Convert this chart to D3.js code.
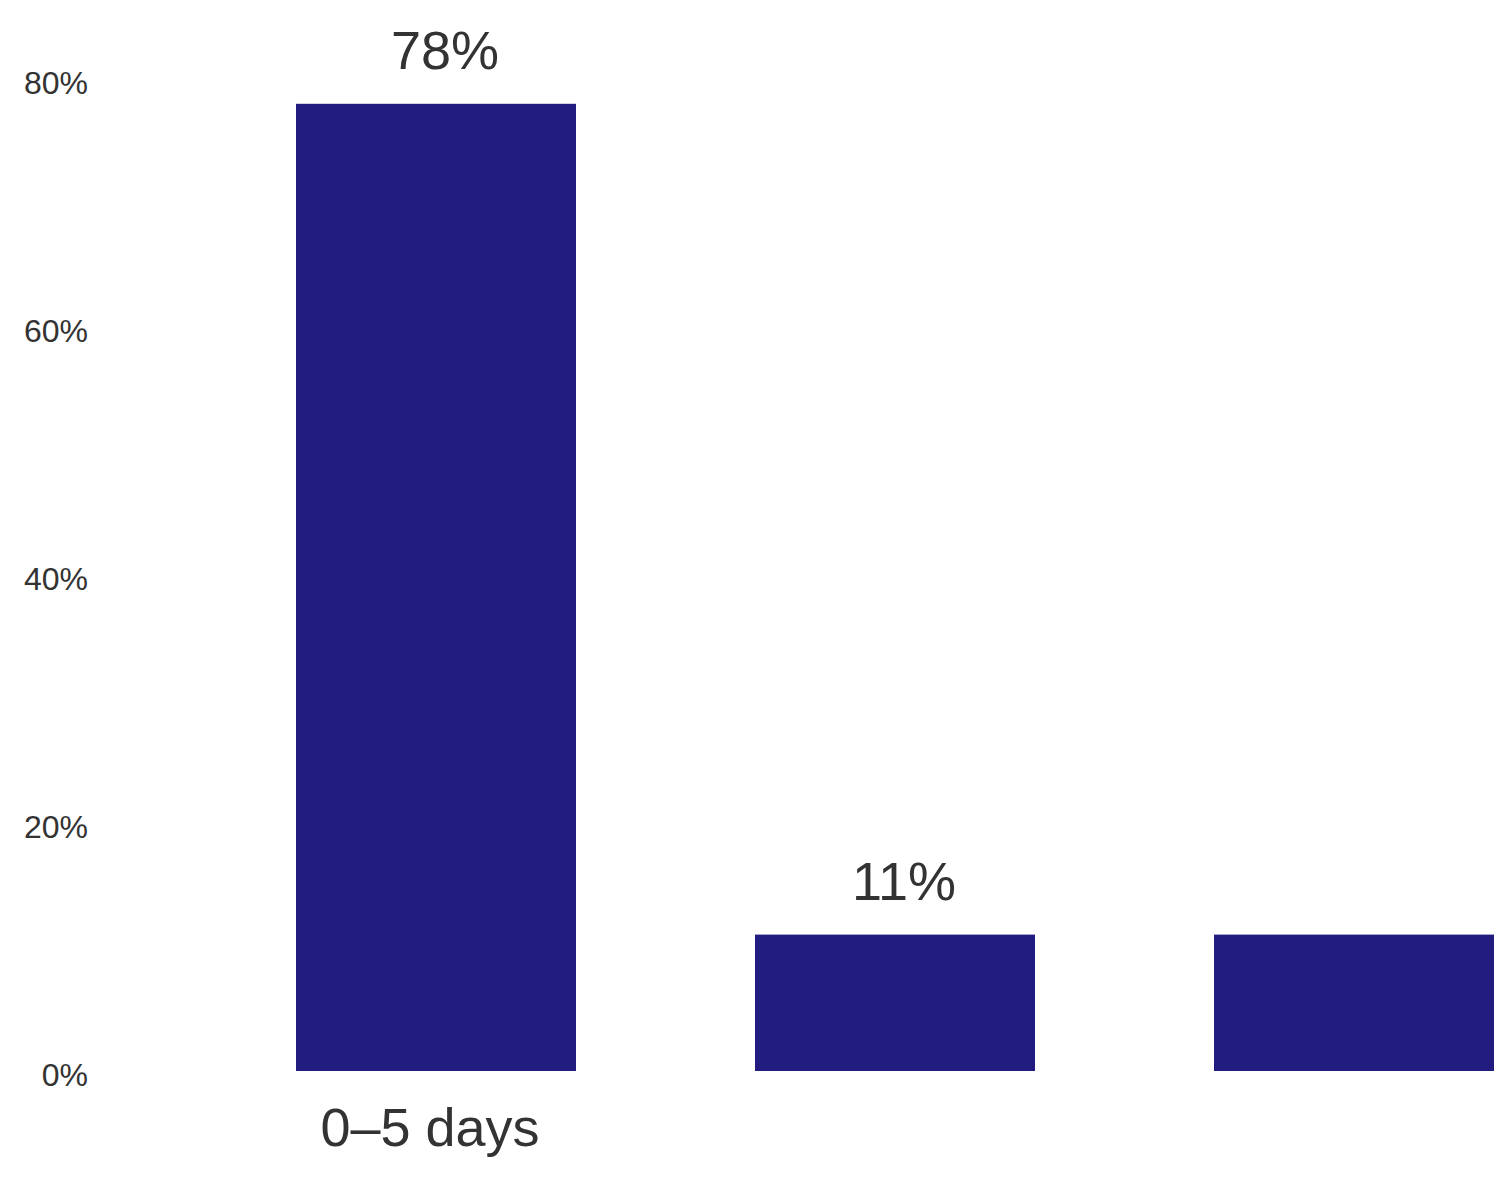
<!DOCTYPE html>
<html>
<head>
<meta charset="utf-8">
<script src="https://cdn.jsdelivr.net/npm/d3@7/dist/d3.min.js"></script>
<style>
  html, body { margin: 0; padding: 0; background: #ffffff; }
  svg { display: block; }
  text { font-family: "Liberation Sans", Arial, sans-serif; fill: #333333; }
</style>
</head>
<body>
<svg id="chart" width="1495" height="1195"></svg>
<script>
// ---- data ----
const categories = ["0–5 days", "cat2", "cat3"];
const values = [78, 11, 11];
const categoryLabels = ["0–5 days", "", ""];
const valueLabels = ["78%", "11%", ""];
const yTicks = [0, 20, 40, 60, 80];

// ---- layout ----
const svg = d3.select("#chart");

const x = d3.scaleBand()
  .domain(categories)
  .range([206.5, 1583.5])
  .paddingInner(0.39)
  .paddingOuter(0.195);

const y = d3.scaleLinear()
  .domain([0, 80])
  .range([1071, 79]);

// y axis (labels only)
const yAxis = d3.axisLeft(y)
  .tickValues(yTicks)
  .tickFormat(d => d + "%")
  .tickSize(0)
  .tickPadding(0);

const gy = svg.append("g")
  .attr("transform", "translate(88,4)")
  .call(yAxis);
gy.select(".domain").remove();
gy.selectAll("text")
  .attr("font-size", 32)
  .attr("font-family", "Liberation Sans, Arial, sans-serif")
  .attr("fill", "#333333");

// bars
svg.append("g").selectAll("rect")
  .data(values)
  .join("rect")
  .attr("x", (d, i) => x(categories[i]))
  .attr("y", d => y(d))
  .attr("width", x.bandwidth())
  .attr("height", d => y(0) - y(d))
  .attr("fill", "#221b80");

// value labels
svg.append("g").selectAll("text")
  .data(values)
  .join("text")
  .attr("x", (d, i) => x(categories[i]) + x.bandwidth() / 2 + 9)
  .attr("y", d => y(d) - 35)
  .attr("text-anchor", "middle")
  .attr("font-size", 54)
  .text((d, i) => valueLabels[i]);

// category labels
const xAxis = d3.axisBottom(x)
  .tickFormat((d, i) => categoryLabels[i])
  .tickSize(0)
  .tickPadding(0);
const gx = svg.append("g")
  .attr("transform", "translate(-6," + 1071 + ")")
  .call(xAxis);
gx.select(".domain").remove();
gx.selectAll("text")
  .attr("font-size", 54)
  .attr("font-family", "Liberation Sans, Arial, sans-serif")
  .attr("fill", "#333333")
  .attr("dy", null)
  .attr("y", 75);
</script>
</body>
</html>
